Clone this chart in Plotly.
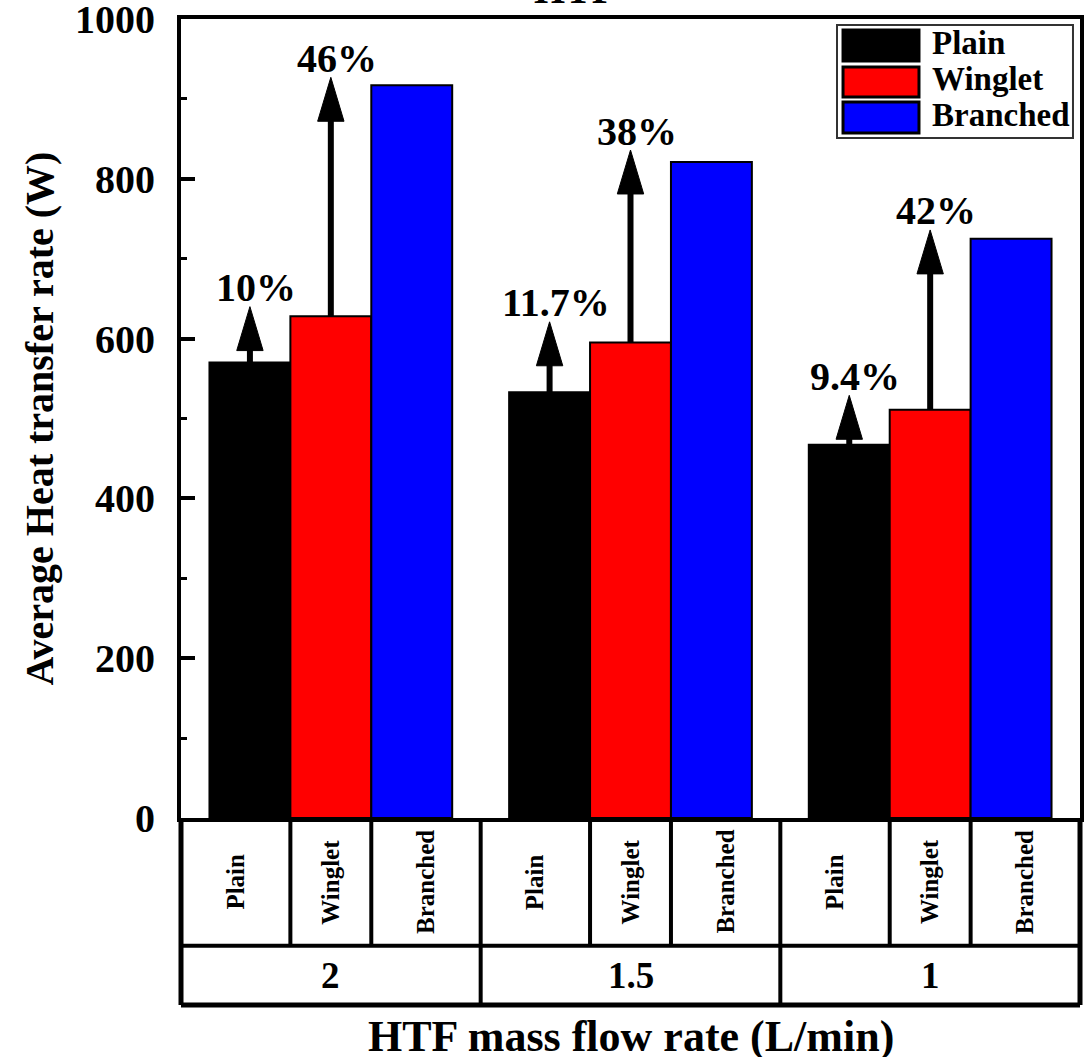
import plotly.graph_objects as go

# ---------------- data ----------------
groups = ["2", "1.5", "1"]
categories = ["Plain", "Winglet", "Branched"]
plain = [570, 533, 467]
winglet = [628, 595, 511]
branched = [917, 821, 725]
plain_arrow_tip = [640, 621, 529]
winglet_arrow_tip = [927, 836, 736]
plain_gain = ["10%", "11.7%", "9.4%"]
branched_gain = ["46%", "38%", "42%"]
y_ticks = [0, 200, 400, 600, 800, 1000]

colors = ["#000000", "#FF0000", "#0000FF"]
FONT = "Liberation Serif"

series = [plain, winglet, branched]
offsets = [-0.27, 0.0, 0.27]
bar_w = 0.27

fig = go.Figure()
for k, (name, vals) in enumerate(zip(categories, series)):
    fig.add_trace(go.Bar(
        x=[i + 0.5 + offsets[k] for i in range(len(groups))],
        y=vals, width=bar_w, name=name,
        marker=dict(color=colors[k], line=dict(color="black", width=2)),
        showlegend=False,
    ))

shapes = []
annotations = []

# arrows
head_h = 55      # in y units
head_hw = 0.044  # in x units
for i in range(len(groups)):
    for k, base, tip, lab in [(0, plain[i], plain_arrow_tip[i], plain_gain[i]),
                              (1, winglet[i], winglet_arrow_tip[i], branched_gain[i])]:
        x = i + 0.5 + offsets[k]
        shapes.append(dict(type="line", xref="x", yref="y", x0=x, x1=x,
                           y0=base, y1=tip - head_h + 2,
                           line=dict(color="black", width=6), layer="above"))
        shapes.append(dict(type="path", xref="x", yref="y",
                           path=f"M {x - head_hw},{tip - head_h} L {x + head_hw},{tip - head_h} L {x},{tip} Z",
                           fillcolor="black", line=dict(color="black", width=1), layer="above"))
        annotations.append(dict(x=x, y=tip, xref="x", yref="y", text=lab,
                                showarrow=False, xanchor="center", yanchor="middle",
                                yshift=19, xshift=6,
                                font=dict(family=FONT, size=40, color="black", weight="bold")))

# table below the axis
row1 = -0.160
row2 = -0.234
lc = "black"
shapes.append(dict(type="line", xref="paper", yref="paper", x0=0, x1=0, y0=0, y1=row2,
                   line=dict(color=lc, width=5)))
shapes.append(dict(type="line", xref="paper", yref="paper", x0=1, x1=1, y0=0, y1=row2,
                   line=dict(color=lc, width=5)))
shapes.append(dict(type="line", xref="paper", yref="paper", x0=0, x1=1, y0=row2, y1=row2,
                   line=dict(color=lc, width=5)))
shapes.append(dict(type="line", xref="paper", yref="paper", x0=0, x1=1, y0=row1, y1=row1,
                   line=dict(color=lc, width=4)))
for i in range(1, len(groups)):
    shapes.append(dict(type="line", xref="x", yref="paper", x0=i, x1=i, y0=0, y1=row2,
                       line=dict(color=lc, width=4)))
for i in range(len(groups)):
    for b in (-bar_w / 2, bar_w / 2):
        xb = i + 0.5 + b
        shapes.append(dict(type="line", xref="x", yref="paper", x0=xb, x1=xb, y0=0, y1=row1,
                           line=dict(color=lc, width=4)))
    cell_centers = [(i + i + 0.5 - bar_w / 2) / 2, i + 0.5, (i + 0.5 + bar_w / 2 + i + 1) / 2]
    for cx, cat in zip(cell_centers, categories):
        annotations.append(dict(x=cx, y=row1 / 2, xref="x", yref="paper", text=cat,
                                textangle=-90, showarrow=False,
                                xanchor="center", yanchor="middle",
                                font=dict(family=FONT, size=25, color="black", weight="bold")))
    annotations.append(dict(x=i + 0.5, y=(row1 + row2) / 2, xref="x", yref="paper",
                            text=groups[i], showarrow=False,
                            xanchor="center", yanchor="middle",
                            font=dict(family=FONT, size=37, color="black", weight="bold")))

# x title
annotations.append(dict(x=0.5, y=-0.274, xref="paper", yref="paper",
                        xanchor="center", yanchor="middle",
                        text="HTF mass flow rate (L/min)", showarrow=False,
                        font=dict(family=FONT, size=44, color="black", weight="bold")))
# partially visible top title (cut off at the top edge, as in the original)
annotations.append(dict(x=0.438, y=1.006, xref="paper", yref="paper",
                        xanchor="center", yanchor="bottom",
                        text="HTF", showarrow=False,
                        font=dict(family=FONT, size=40, color="black", weight="bold")))

# manual legend
shapes.append(dict(type="rect", xref="paper", yref="paper", x0=0.7297, x1=0.9922,
                   y0=0.851, y1=0.9925, line=dict(color="#333333", width=2),
                   fillcolor="white", layer="above"))
sw_y = [(0.9862, 0.9474), (0.9399, 0.9024), (0.8961, 0.8573)]
lab_y = [0.9700, 0.9249, 0.8798]
for k, name in enumerate(categories):
    shapes.append(dict(type="rect", xref="paper", yref="paper", x0=0.7364, x1=0.8209,
                       y0=sw_y[k][1], y1=sw_y[k][0], fillcolor=colors[k],
                       line=dict(color="black", width=3), layer="above"))
    annotations.append(dict(x=0.8331, y=lab_y[k], xref="paper", yref="paper",
                            xanchor="left", yanchor="middle",
                            text=name, showarrow=False,
                            font=dict(family=FONT, size=33, color="black", weight="bold")))

fig.update_layout(
    width=1088, height=1057,
    margin=dict(l=181, r=8, t=19, b=239, autoexpand=False),
    paper_bgcolor="white", plot_bgcolor="white",
    barmode="overlay",
    shapes=shapes, annotations=annotations,
    xaxis=dict(range=[0, 3], showticklabels=False, ticks="", showgrid=False, zeroline=False,
               automargin=False,
               showline=True, mirror=True, linewidth=4, linecolor="black"),
    yaxis=dict(range=[0, 1000], tickvals=y_ticks, ticks="inside", ticklen=14, tickwidth=4,
               tickcolor="black", showgrid=False, zeroline=False, automargin=False,
               showline=True, mirror=True, linewidth=4, linecolor="black",
               ticklabelstandoff=14, ticklabeloverflow="allow",
               tickfont=dict(family=FONT, size=40, color="black", weight="bold"),
               minor=dict(ticks="inside", ticklen=6, tickwidth=3, dtick=100, tickcolor="black"),
               title=dict(text="Average Heat transfer rate (W)", standoff=10,
                          font=dict(family=FONT, size=40, color="black", weight="bold"))),
)

fig.write_html("out.html")
